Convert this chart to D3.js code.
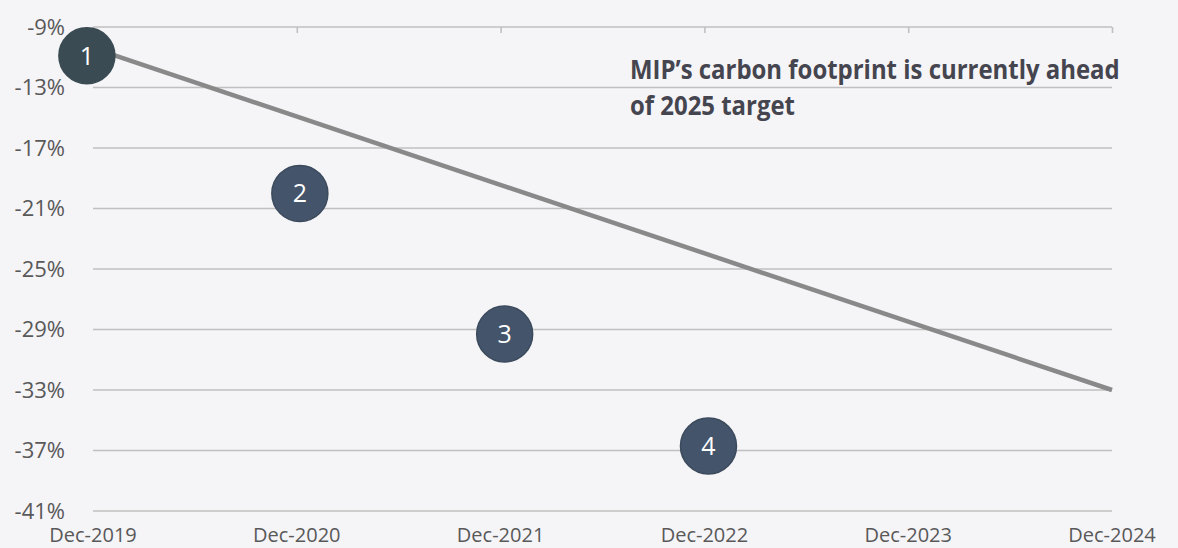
<!DOCTYPE html>
<html>
<head>
<meta charset="utf-8">
<script src="https://cdn.jsdelivr.net/npm/d3@7"></script>
<style>
  body { margin: 0; background: #f5f4f7; }
  svg { display: block; }
</style>
</head>
<body>
<svg id="chart" width="1178" height="548"></svg>
<script>
// x categories and y ticks
var periods = ["Dec-2019", "Dec-2020", "Dec-2021", "Dec-2022", "Dec-2023", "Dec-2024"]
var yTicks = [-9, -13, -17, -21, -25, -29, -33, -37, -41]

// target path (start and end, %)
var targetIdx = [0, 5]
var targetVal = [-10.4, -33]

// numbered markers
var markerLabel = ["1", "2", "3", "4"]
var markerIdx = [-0.03, 1.015, 2.02, 3.02]
var markerVal = [-10.9, -20.0, -29.3, -36.7]

var title = ["MIP\u2019s carbon footprint is currently ahead", "of 2025 target"]

var svg = d3.select("#chart")

var xScale = d3.scaleLinear().domain([0, 5]).range([93, 1112])
var yScale = d3.scaleLinear().domain([-9, -41]).range([27, 511])

// gridlines
svg.append("g")
    .selectAll("line")
    .data(yTicks)
    .enter().append("line")
    .attr("x1", xScale(0))
    .attr("x2", xScale(5))
    .attr("y1", function (d) { return yScale(d) })
    .attr("y2", function (d) { return yScale(d) })
    .attr("stroke", "#c0c0c0")
    .attr("stroke-width", 1.6)

// y labels
svg.append("g")
    .selectAll("text")
    .data(yTicks)
    .enter().append("text")
    .attr("x", 65)
    .attr("y", function (d) { return yScale(d) })
    .attr("dy", "0.35em")
    .attr("text-anchor", "end")
    .style("font-family", "Open Sans")
    .style("font-size", "22px")
    .style("fill", "#595959")
    .text(function (d) { return d + "%" })

// x axis sits on the top gridline, ticks pointing down
var xAxis = svg.append("g")
    .attr("transform", "translate(0," + yScale(-9) + ")")
    .call(d3.axisBottom(xScale).tickValues(d3.range(0, 6)).tickSize(6).tickFormat(""))
xAxis.select(".domain").remove()
xAxis.selectAll("line").attr("stroke", "#c0c0c0").attr("stroke-width", 1.6)

// x labels at the bottom
svg.append("g")
    .selectAll("text")
    .data(periods)
    .enter().append("text")
    .attr("x", function (d, i) { return xScale(i) })
    .attr("y", 542)
    .attr("text-anchor", "middle")
    .style("font-family", "Open Sans")
    .style("font-size", "20px")
    .style("fill", "#595959")
    .text(function (d) { return d })

// target line
var line = d3.line()
    .x(function (d) { return xScale(d[0]) })
    .y(function (d) { return yScale(d[1]) })

svg.append("path")
    .datum(d3.zip(targetIdx, targetVal))
    .attr("d", line)
    .attr("fill", "none")
    .attr("stroke", "#898989")
    .attr("stroke-width", 4.5)

// markers
var markers = svg.append("g")
    .selectAll("g")
    .data(markerLabel)
    .enter().append("g")
    .attr("transform", function (d, i) {
        return "translate(" + xScale(markerIdx[i]) + "," + yScale(markerVal[i]) + ")"
    })

markers.append("circle")
    .attr("r", 28)
    .attr("fill", function (d, i) { return i == 0 ? "#3a4b53" : "#44546a" })
    .attr("stroke", function (d, i) { return i == 0 ? "#3a4b53" : "#3b4a5c" })
    .attr("stroke-width", 1.5)

markers.append("text")
    .attr("text-anchor", "middle")
    .attr("dy", "0.36em")
    .style("font-family", "Open Sans")
    .style("font-size", "25px")
    .style("fill", "#ffffff")
    .text(function (d) { return d })

// annotation, squeezed horizontally so the bold face matches the narrow original
var note = svg.append("g").attr("transform", "translate(630,0)")
var noteLines = note.selectAll("text")
    .data(title)
    .enter().append("text")
    .attr("x", 0)
    .attr("y", function (d, i) { return 79 + i * 36 })
    .style("font-family", "Open Sans")
    .style("font-weight", "bold")
    .style("font-size", "27px")
    .style("fill", "#45454f")
    .text(function (d) { return d })

var natural = noteLines.node().getComputedTextLength()
note.attr("transform", "translate(630,0) scale(" + (490 / natural) + ",1)")
</script>
</body>
</html>
